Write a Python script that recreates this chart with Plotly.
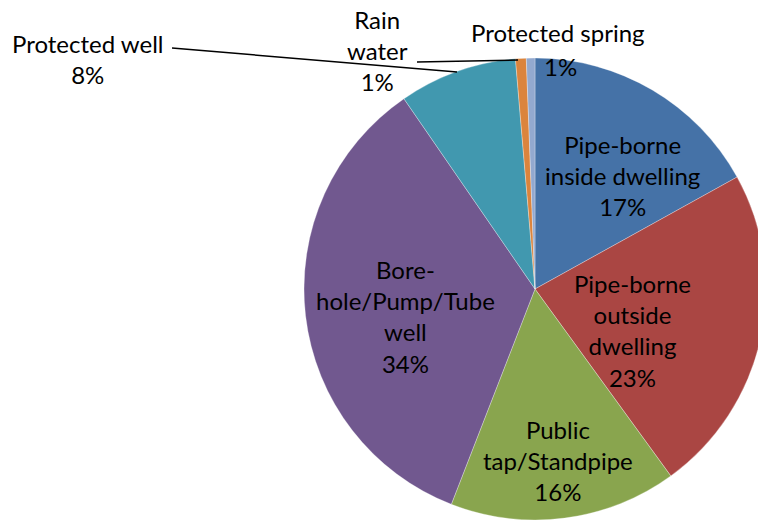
import plotly.graph_objects as go

# ---- data ----
categories = ["Pipe-borne inside dwelling", "Pipe-borne outside dwelling", "Public tap/Standpipe",
              "Bore-hole/Pump/Tube well", "Protected well", "Rain water", "Protected spring"]
label_text = ["Pipe-borne<br>inside dwelling", "Pipe-borne<br>outside<br>dwelling", "Public<br>tap/Standpipe",
              "Bore-<br>hole/Pump/Tube<br>well", "Protected well", "Rain<br>water", "Protected spring"]
shares = [16.95, 23.05, 15.9, 34.5, 8.25, 0.75, 0.6]
colors = ["#4572A7", "#AA4643", "#89A54E", "#71588F", "#4198AF", "#DB843D", "#93A9CF"]

W, H = 770, 530
FONT = "Lato"
FS = 24

def px(x, y):
    return x / W, 1 - y / H

total = sum(shares)
pct = [round(v / total * 100) for v in shares]

fig = go.Figure()
x0, y0 = px(304, 520)
x1, y1 = px(766, 58)
fig.add_trace(go.Pie(
    labels=categories, values=shares, sort=False, direction="clockwise", rotation=0,
    marker=dict(colors=colors, line=dict(color="rgba(255,255,255,0.5)", width=0.6)),
    textinfo="none", hoverinfo="label+percent", showlegend=False,
    domain=dict(x=[x0, x1], y=[y0, y1]),
))

# label centers (pixel) for each slice
label_pos = [(622, 176), (632, 330), (558, 460), (406, 316), (88, 59), (377, 51), (558, 33)]
annots = []
for i, (lx, ly) in enumerate(label_pos):
    ax_, ay_ = px(lx, ly)
    if i == 6:
        text = label_text[i]
    else:
        text = f"{label_text[i]}<br>{pct[i]}%"
    annots.append(dict(x=ax_, y=ay_, xref="paper", yref="paper", text=text, showarrow=False,
                       xanchor="center", yanchor="middle", align="center",
                       font=dict(family=FONT, size=FS, color="#000000")))
# protected spring percentage placed separately
sx, sy = px(560, 67)
annots.append(dict(x=sx, y=sy, xref="paper", yref="paper", text=f"{pct[6]}%", showarrow=False,
                   xanchor="center", yanchor="middle",
                   font=dict(family=FONT, size=FS, color="#000000")))

shapes = []
for (ax0, ay0, ax1, ay1) in [(172, 48, 457, 72), (417, 62, 518, 60)]:
    a, b = px(ax0, ay0)
    c, d = px(ax1, ay1)
    shapes.append(dict(type="line", xref="paper", yref="paper", x0=a, y0=b, x1=c, y1=d,
                       line=dict(color="#000000", width=1.5)))

fig.update_layout(
    width=W, height=H, margin=dict(l=0, r=0, t=0, b=0),
    paper_bgcolor="white", plot_bgcolor="white",
    annotations=annots, shapes=shapes,
    font=dict(family=FONT, size=FS),
)

fig.write_html("out.html", config={"displayModeBar": False},
               post_script="document.body.style.margin='0';document.body.style.overflow='hidden';")
